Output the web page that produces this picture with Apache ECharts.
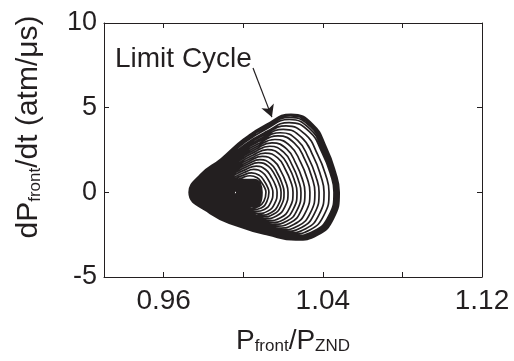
<!DOCTYPE html>
<html>
<head>
<meta charset="utf-8">
<script src="https://cdn.jsdelivr.net/npm/echarts@6/dist/echarts.min.js"></script>
<style>
  html, body { margin: 0; padding: 0; background: #fff; }
  #chart { width: 514px; height: 361px; }
</style>
</head>
<body>
<div id="chart"></div>
<script>
// spiral, one row per loop, clockwise from the left tip.
// first rows: the small early loops that make the dark core
const pRatio = [
  0.9930, 0.9936, 0.9944, 0.9951, 0.9955, 0.9951, 0.9944, 0.9934,
  0.9922, 0.9932, 0.9946, 0.9960, 0.9968, 0.9961, 0.9946, 0.9929,
  0.9919, 0.9931, 0.9948, 0.9965, 0.9975, 0.9967, 0.9949, 0.9927,
  0.9916, 0.9930, 0.9950, 0.9970, 0.9982, 0.9973, 0.9951, 0.9925,
  0.9913, 0.9929, 0.9952, 0.9976, 0.9989, 0.9978, 0.9953, 0.9924,
  0.9910, 0.9928, 0.9954, 0.9981, 0.9996, 0.9984, 0.9955, 0.9922,
  0.9907, 0.9927, 0.9956, 0.9986, 1.0003, 0.9989, 0.9958, 0.9921,
  0.9904, 0.9927, 0.9959, 0.9991, 1.0010, 0.9995, 0.9960, 0.9919,
  0.9901, 0.9926, 0.9961, 0.9997, 1.0017, 1.0000, 0.9962, 0.9917,
  0.9898, 0.9925, 0.9963, 1.0002, 1.0024, 1.0006, 0.9965, 0.9916,
  0.9895, 0.9924, 0.9965, 1.0007, 1.0031, 1.0011, 0.9967, 0.9914,
  0.9892, 0.9923, 0.9967, 1.0012, 1.0038, 1.0017, 0.9969, 0.9913,
  0.9889, 0.9922, 0.9969, 1.0017, 1.0045, 1.0023, 0.9971, 0.9911,
  0.9886, 0.9921, 0.9972, 1.0023, 1.0052, 1.0028, 0.9974, 0.9909,
  0.9883, 0.9921, 0.9974, 1.0028, 1.0059, 1.0034, 0.9976, 0.9908,
  0.9880, 0.9920, 0.9976, 1.0033, 1.0066, 1.0039, 0.9978, 0.9906,
  0.9877, 0.9919, 0.9978, 1.0038, 1.0073, 1.0045, 0.9981, 0.9905,
  0.9874, 0.9918, 0.9980, 1.0044, 1.0080, 1.0050, 0.9983, 0.9903,
  0.9871, 0.9917, 0.9982, 1.0049, 1.0087, 1.0056, 0.9985, 0.9902,
  0.9868, 0.9916, 0.9984, 1.0054, 1.0094, 1.0062, 0.9987, 0.9900,
  0.9864, 0.9883, 0.9917, 0.9955, 0.9993, 1.0034, 1.0070, 1.0093, 1.0108, 1.0114, 1.0104, 1.0078, 1.0042, 0.9996, 0.9947, 0.9899,
  0.9857, 0.9877, 0.9915, 0.9956, 0.9997, 1.0042, 1.0081, 1.0106, 1.0122, 1.0129, 1.0118, 1.0090, 1.0050, 1.0001, 0.9947, 0.9895,
  0.9850, 0.9872, 0.9914, 0.9959, 1.0004, 1.0053, 1.0096, 1.0124, 1.0141, 1.0149, 1.0137, 1.0106, 1.0063, 1.0008, 0.9949, 0.9892,
  0.9843, 0.9868, 0.9913, 0.9962, 1.0011, 1.0065, 1.0112, 1.0142, 1.0162, 1.0170, 1.0157, 1.0123, 1.0076, 1.0016, 0.9951, 0.9889,
  0.9836, 0.9863, 0.9911, 0.9965, 1.0018, 1.0076, 1.0127, 1.0160, 1.0181, 1.0190, 1.0176, 1.0139, 1.0088, 1.0023, 0.9953, 0.9886,
  0.9829, 0.9857, 0.9909, 0.9966, 1.0023, 1.0084, 1.0138, 1.0173, 1.0195, 1.0205, 1.0190, 1.0151, 1.0096, 1.0028, 0.9954, 0.9882,
  0.9822, 0.9852, 0.9908, 0.9969, 1.0030, 1.0096, 1.0154, 1.0191, 1.0215, 1.0225, 1.0209, 1.0167, 1.0109, 1.0035, 0.9955, 0.9879,
  0.9815, 0.9848, 0.9908, 0.9973, 1.0039, 1.0110, 1.0173, 1.0213, 1.0239, 1.0250, 1.0233, 1.0187, 1.0124, 1.0045, 0.9959, 0.9876,
  0.9808, 0.9843, 0.9906, 0.9976, 1.0046, 1.0122, 1.0188, 1.0231, 1.0258, 1.0270, 1.0252, 1.0204, 1.0137, 1.0052, 0.9961, 0.9873,
  0.9801, 0.9838, 0.9905, 0.9979, 1.0053, 1.0133, 1.0203, 1.0248, 1.0277, 1.0290, 1.0271, 1.0220, 1.0149, 1.0059, 0.9963, 0.9870,
  0.9794, 0.9833, 0.9904, 0.9982, 1.0060, 1.0144, 1.0219, 1.0266, 1.0297, 1.0310, 1.0290, 1.0236, 1.0161, 1.0066, 0.9965, 0.9867,
  0.9787, 0.9828, 0.9904, 0.9987, 1.0069, 1.0159, 1.0238, 1.0288, 1.0321, 1.0335, 1.0314, 1.0256, 1.0177, 1.0076, 0.9968, 0.9864,
  0.9780, 0.9824, 0.9904, 0.9991, 1.0079, 1.0174, 1.0257, 1.0311, 1.0345, 1.0360, 1.0337, 1.0277, 1.0192, 1.0086, 0.9972, 0.9862,
  0.9773, 0.9819, 0.9903, 0.9994, 1.0086, 1.0186, 1.0273, 1.0329, 1.0365, 1.0381, 1.0357, 1.0293, 1.0205, 1.0094, 0.9974, 0.9859,
  0.9766, 0.9814, 0.9902, 0.9999, 1.0096, 1.0201, 1.0293, 1.0352, 1.0389, 1.0406, 1.0381, 1.0314, 1.0221, 1.0104, 0.9978, 0.9856,
  0.9759, 0.9809, 0.9902, 1.0004, 1.0105, 1.0215, 1.0312, 1.0374, 1.0414, 1.0431, 1.0405, 1.0334, 1.0237, 1.0114, 0.9981, 0.9854,
  0.9752, 0.9805, 0.9902, 1.0008, 1.0115, 1.0230, 1.0331, 1.0396, 1.0438, 1.0456, 1.0429, 1.0355, 1.0253, 1.0124, 0.9985, 0.9851,
  0.9745, 0.9799, 0.9898, 1.0006, 1.0114, 1.0232, 1.0335, 1.0401, 1.0443, 1.0462, 1.0434, 1.0359, 1.0255, 1.0124, 0.9982, 0.9846,
  0.9739, 0.9794, 0.9894, 1.0004, 1.0114, 1.0234, 1.0339, 1.0406, 1.0449, 1.0468, 1.0440, 1.0363, 1.0257, 1.0124, 0.9980, 0.9842,
  0.9734, 0.9790, 0.9892, 1.0003, 1.0115, 1.0237, 1.0343, 1.0411, 1.0455, 1.0474, 1.0445, 1.0367, 1.0260, 1.0125, 0.9979, 0.9838,
  0.9730, 0.9786, 0.9889, 1.0002, 1.0115, 1.0238, 1.0346, 1.0414, 1.0459, 1.0478, 1.0449, 1.0370, 1.0262, 1.0125, 0.9978, 0.9836,
  0.9728, 0.9785, 0.9889, 1.0003, 1.0116, 1.0240, 1.0349, 1.0418, 1.0462, 1.0482, 1.0453, 1.0373, 1.0264, 1.0126, 0.9978, 0.9834,
  0.9728
];
const dPdt = [
  0, 0.02, 0.04, 0.04, 0, -0.05, -0.05, -0.02,
  0, 0.04, 0.09, 0.09, 0, -0.11, -0.11, -0.05,
  0, 0.06, 0.12, 0.12, 0, -0.14, -0.14, -0.07,
  0, 0.08, 0.16, 0.16, 0, -0.19, -0.19, -0.09,
  0, 0.09, 0.19, 0.19, 0, -0.22, -0.22, -0.11,
  0, 0.12, 0.23, 0.24, 0, -0.27, -0.27, -0.13,
  0, 0.13, 0.27, 0.27, 0, -0.31, -0.31, -0.15,
  0, 0.15, 0.30, 0.31, 0, -0.34, -0.34, -0.17,
  0, 0.17, 0.34, 0.34, 0, -0.39, -0.39, -0.19,
  0, 0.19, 0.38, 0.38, 0, -0.42, -0.42, -0.21,
  0, 0.21, 0.42, 0.42, 0, -0.47, -0.47, -0.23,
  0, 0.22, 0.45, 0.45, 0, -0.50, -0.50, -0.25,
  0, 0.24, 0.49, 0.49, 0, -0.54, -0.54, -0.27,
  0, 0.26, 0.52, 0.52, 0, -0.58, -0.58, -0.29,
  0, 0.28, 0.56, 0.57, 0, -0.62, -0.62, -0.31,
  0, 0.30, 0.60, 0.60, 0, -0.66, -0.66, -0.33,
  0, 0.31, 0.63, 0.64, 0, -0.70, -0.70, -0.35,
  0, 0.33, 0.67, 0.67, 0, -0.75, -0.75, -0.37,
  0, 0.35, 0.70, 0.71, 0, -0.78, -0.78, -0.39,
  0, 0.37, 0.75, 0.75, 0, -0.83, -0.83, -0.41,
  0, 0.22, 0.42, 0.67, 0.85, 0.98, 0.86, 0.56, 0.26, 0, -0.52, -0.84, -0.94, -0.84, -0.67, -0.42,
  0, 0.26, 0.49, 0.79, 1.00, 1.15, 1.00, 0.66, 0.31, 0, -0.56, -0.92, -1.02, -0.92, -0.73, -0.46,
  0, 0.31, 0.58, 0.92, 1.17, 1.35, 1.18, 0.77, 0.36, 0, -0.62, -1.01, -1.13, -1.01, -0.81, -0.51,
  0, 0.35, 0.67, 1.06, 1.34, 1.55, 1.35, 0.88, 0.41, 0, -0.68, -1.11, -1.24, -1.11, -0.89, -0.56,
  0, 0.40, 0.75, 1.20, 1.52, 1.75, 1.53, 1.00, 0.47, 0, -0.74, -1.21, -1.35, -1.21, -0.96, -0.61,
  0, 0.44, 0.83, 1.32, 1.67, 1.93, 1.68, 1.10, 0.51, 0, -0.80, -1.30, -1.45, -1.30, -1.04, -0.65,
  0, 0.48, 0.91, 1.45, 1.84, 2.12, 1.85, 1.21, 0.56, 0, -0.86, -1.40, -1.56, -1.40, -1.11, -0.70,
  0, 0.53, 1.00, 1.59, 2.01, 2.32, 2.03, 1.32, 0.62, 0, -0.92, -1.50, -1.67, -1.50, -1.19, -0.75,
  0, 0.57, 1.08, 1.72, 2.18, 2.52, 2.20, 1.44, 0.67, 0, -0.98, -1.60, -1.78, -1.60, -1.27, -0.80,
  0, 0.62, 1.17, 1.86, 2.36, 2.72, 2.37, 1.55, 0.72, 0, -1.04, -1.70, -1.89, -1.70, -1.35, -0.85,
  0, 0.67, 1.26, 2.00, 2.53, 2.92, 2.55, 1.66, 0.78, 0, -1.10, -1.80, -2.00, -1.80, -1.43, -0.90,
  0, 0.71, 1.34, 2.13, 2.71, 3.12, 2.72, 1.78, 0.83, 0, -1.16, -1.89, -2.11, -1.89, -1.51, -0.95,
  0, 0.76, 1.43, 2.28, 2.89, 3.33, 2.91, 1.90, 0.89, 0, -1.22, -1.98, -2.21, -1.98, -1.58, -0.99,
  0, 0.80, 1.51, 2.41, 3.05, 3.52, 3.07, 2.01, 0.94, 0, -1.27, -2.07, -2.30, -2.07, -1.64, -1.03,
  0, 0.85, 1.60, 2.54, 3.23, 3.72, 3.25, 2.12, 0.99, 0, -1.32, -2.15, -2.39, -2.15, -1.71, -1.07,
  0, 0.89, 1.69, 2.68, 3.40, 3.92, 3.42, 2.23, 1.04, 0, -1.36, -2.22, -2.47, -2.22, -1.76, -1.11,
  0, 0.94, 1.77, 2.82, 3.57, 4.12, 3.60, 2.35, 1.10, 0, -1.41, -2.29, -2.55, -2.29, -1.82, -1.14,
  0, 0.98, 1.85, 2.94, 3.73, 4.30, 3.75, 2.45, 1.14, 0, -1.44, -2.35, -2.62, -2.35, -1.87, -1.18,
  0, 1.01, 1.90, 3.02, 3.83, 4.42, 3.86, 2.52, 1.18, 0, -1.48, -2.42, -2.69, -2.42, -1.92, -1.21,
  0, 1.03, 1.94, 3.08, 3.91, 4.51, 3.94, 2.57, 1.20, 0, -1.51, -2.46, -2.74, -2.46, -1.96, -1.23,
  0, 1.04, 1.97, 3.13, 3.96, 4.57, 3.99, 2.60, 1.22, 0, -1.53, -2.50, -2.78, -2.50, -1.98, -1.25,
  0, 1.05, 1.98, 3.15, 4.00, 4.61, 4.02, 2.63, 1.23, 0, -1.55, -2.52, -2.81, -2.52, -2.01, -1.26,
  0
];

const xTicks = [0.96, 1.00, 1.04, 1.08];
const xTickLabels = [0.96, 1.04, 1.12];

// annotation arrow, in data units
const arrowFrom = [1.0049, 7.34];
const arrowTo = [1.0144, 4.44];

const ink = '#231f20';
const font = 'Liberation Sans, Arial, Helvetica, sans-serif';

const chart = echarts.init(document.getElementById('chart'), null, { renderer: 'canvas' });

const spiral = pRatio.map((p, i) => [p, dPdt[i]]);

const axisBase = {
  type: 'value',
  axisLine: { show: true, onZero: false, lineStyle: { color: ink, width: 1 } },
  splitLine: { show: false },
  axisTick: { show: true, inside: true, length: 5, lineStyle: { color: ink, width: 1 } }
};

const subRich = {
  p: { fontSize: 28, fontFamily: font, color: ink, lineHeight: 28, padding: [0, 0, 6, 0], verticalAlign: 'top' },
  s: { fontSize: 17, fontFamily: font, color: ink, lineHeight: 17, verticalAlign: 'bottom' }
};

const option = {
  animation: false,
  backgroundColor: '#fff',
  grid: { left: 104, right: 32, top: 23, bottom: 84, containLabel: false, outerBoundsMode: 'none' },
  xAxis: [
    {
      ...axisBase,
      position: 'bottom',
      min: 0.93,
      max: 1.12,
      axisTick: { ...axisBase.axisTick, customValues: xTicks },
      axisLabel: {
        customValues: xTickLabels,
        margin: 10,
        color: ink,
        fontFamily: font,
        fontSize: 28,
        formatter: v => v.toFixed(2)
      },
      name: '{p|P}{s|front}{p|/P}{s|ZND}',
      nameLocation: 'middle',
      nameGap: 50,
      nameTextStyle: { color: ink, fontFamily: font, rich: subRich }
    },
    {
      ...axisBase,
      position: 'top',
      min: 0.93,
      max: 1.12,
      axisTick: { ...axisBase.axisTick, customValues: xTicks },
      axisLabel: { show: false }
    }
  ],
  yAxis: [
    {
      ...axisBase,
      position: 'left',
      min: -5,
      max: 10,
      interval: 5,
      axisLabel: { margin: 7, color: ink, fontFamily: font, fontSize: 27 },
      name: '{p|dP}{s|front}{p|/dt (atm/μs)}',
      nameLocation: 'middle',
      nameGap: 60,
      nameRotate: 90,
      nameTextStyle: {
        color: ink,
        fontFamily: font,
        padding: [0, 0, 0, 46],
        rich: {
          p: { ...subRich.p, fontSize: 30, lineHeight: 30 },
          s: subRich.s
        }
      }
    },
    {
      ...axisBase,
      position: 'right',
      min: -5,
      max: 10,
      interval: 5,
      axisLabel: { show: false }
    }
  ],
  graphic: [
    {
      type: 'text',
      left: 115,
      top: 45,
      style: { text: 'Limit Cycle', fill: ink, font: '28px ' + font }
    }
  ],
  series: [
    {
      type: 'line',
      data: spiral,
      smooth: true,
      showSymbol: false,
      symbol: 'none',
      clip: false,
      lineStyle: { color: ink, width: 1.7 },
      markLine: {
        silent: true,
        symbol: ['none', 'arrow'],
        symbolSize: [10, 12],
        label: { show: false },
        lineStyle: { color: ink, width: 1.2, type: 'solid' },
        data: [[{ coord: arrowFrom }, { coord: arrowTo }]]
      }
    }
  ]
};

chart.setOption(option);
</script>
</body>
</html>
